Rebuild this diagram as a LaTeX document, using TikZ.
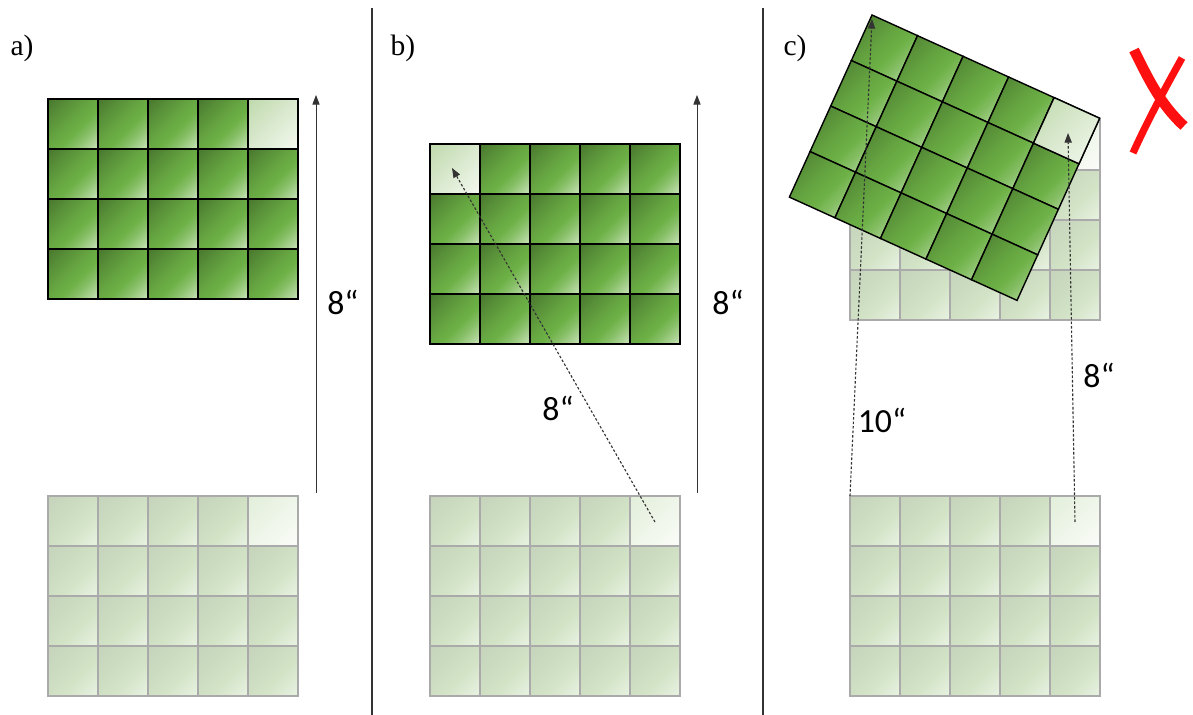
\documentclass[tikz,border=0pt]{standalone}
\usepackage{fontspec}
\setmainfont{Liberation Serif}
\newfontfamily\sizefont{Carlito}
\usetikzlibrary{arrows.meta}
\definecolor{tiledark}{HTML}{4A792F}
\definecolor{tilemid}{HTML}{6DB146}
\definecolor{tilepale}{HTML}{D4E9C8}
\colorlet{tilestepa}{tilemid!45!tiledark}
\colorlet{tilestepb}{tilemid!80!tiledark}
\colorlet{tilestepc}{tilemid!75!tilepale}
\colorlet{tilestepd}{tilemid!40!tilepale}
\definecolor{litdark}{HTML}{BFD9AD}
\definecolor{litpale}{HTML}{F6FAF2}
\definecolor{ghostdark}{HTML}{C5D4BB}
\definecolor{ghostmid}{HTML}{D2E3C6}
\definecolor{ghostpale}{HTML}{EAF3E4}
\colorlet{ghoststepa}{ghostmid!50!ghostdark}
\colorlet{ghoststepb}{ghostmid!50!ghostpale}
\definecolor{ghostlitdark}{HTML}{E2EEDA}
\definecolor{ghostlitpale}{HTML}{FBFDF9}
\definecolor{ghostline}{HTML}{AAAAAA}
\definecolor{arrowgray}{HTML}{333333}
\definecolor{wrong}{HTML}{FF1010}
\pgfdeclarehorizontalshading{tileshade}{100bp}{color(0bp)=(tiledark); color(16bp)=(tiledark); color(32bp)=(tilestepa); color(46bp)=(tilestepb); color(57bp)=(tilemid); color(67bp)=(tilestepc); color(77bp)=(tilestepd); color(87bp)=(tilepale); color(100bp)=(tilepale)}
\pgfdeclarehorizontalshading{litshade}{100bp}{color(0bp)=(litdark); color(15bp)=(litdark); color(87bp)=(litpale); color(100bp)=(litpale)}
\pgfdeclarehorizontalshading{ghostshade}{100bp}{color(0bp)=(ghostdark); color(16bp)=(ghostdark); color(38bp)=(ghoststepa); color(58bp)=(ghostmid); color(72bp)=(ghoststepb); color(87bp)=(ghostpale); color(100bp)=(ghostpale)}
\pgfdeclarehorizontalshading{ghostlitshade}{100bp}{color(0bp)=(ghostlitdark); color(15bp)=(ghostlitdark); color(87bp)=(ghostlitpale); color(100bp)=(ghostlitpale)}

\begin{document}
\begin{tikzpicture}[
  x=0.025cm, y=-0.025cm,
  tile/.style={shading=tileshade, shading angle=-45, draw=black, line width=1pt},
  tilelit/.style={shading=litshade, shading angle=-45, draw=black, line width=1pt},
  ghost/.style={shading=ghostshade, shading angle=-45, draw=ghostline, line width=1pt},
  ghostlit/.style={shading=ghostlitshade, shading angle=-45, draw=ghostline, line width=1pt},
  lift/.style={-{Triangle[length=2.4mm, width=1.8mm]}, draw=arrowgray, line width=0.6pt},
  drift/.style={lift, line width=0.8pt, dash pattern=on 1.8pt off 1.4pt},
  divider/.style={draw=arrowgray, line width=0.9pt},
  size/.style={font=\sizefont\fontsize{24}{28}\selectfont, inner sep=0pt},
  panel/.style={font=\fontsize{21}{25}\selectfont, inner sep=0pt},
  cross/.style={draw=wrong, line cap=butt}
]
\useasboundingbox (0,0) rectangle (1193,715);

% panel dividers
\draw[divider] (372,8) -- (372,715);
\draw[divider] (763,8) -- (763,715);

% a) straight lift
\node[panel] (alabel) at (22,48) {a)};
\begin{scope}[shift={(48,99)}]
  \foreach \i in {0,...,4} \foreach \j in {0,...,3}
    \shade[tile] (\i*50,\j*50) rectangle ++(50,50);
  \shade[tilelit] (200,0) rectangle ++(50,50);
\end{scope}
\begin{scope}[shift={(48,496)}]
  \foreach \i in {0,...,4} \foreach \j in {0,...,3}
    \shade[ghost] (\i*50,\j*50) rectangle ++(50,50);
  \shade[ghostlit] (200,0) rectangle ++(50,50);
\end{scope}
\coordinate (afoot) at (316,493);
\coordinate (ahead) at (316,95);
\draw[lift] (afoot) -- (ahead);
\node[size] (adist) at (343,302) {8“};

% b) lift with slide
\node[panel] (blabel) at (403,48) {b)};
\begin{scope}[shift={(430,144)}]
  \foreach \i in {0,...,4} \foreach \j in {0,...,3}
    \shade[tile] (\i*50,\j*50) rectangle ++(50,50);
  \shade[tilelit] (0,0) rectangle ++(50,50);
\end{scope}
\begin{scope}[shift={(430,496)}]
  \foreach \i in {0,...,4} \foreach \j in {0,...,3}
    \shade[ghost] (\i*50,\j*50) rectangle ++(50,50);
  \shade[ghostlit] (200,0) rectangle ++(50,50);
\end{scope}
\coordinate (bfoot) at (697,493);
\coordinate (bhead) at (697,95);
\draw[lift] (bfoot) -- (bhead);
\node[size] (bdist) at (728,302) {8“};
\coordinate (bstart) at (655,522);
\coordinate (bend) at (452,168);
\draw[drift] (bstart) -- (bend);
\node[size] (bslide) at (558,408) {8“};

% c) tilted lift
\node[panel] (clabel) at (795,48) {c)};
\begin{scope}[shift={(850,120)}]
  \foreach \i in {0,...,4} \foreach \j in {0,...,3}
    \shade[ghost] (\i*50,\j*50) rectangle ++(50,50);
  \shade[ghostlit] (200,0) rectangle ++(50,50);
\end{scope}
\begin{scope}[shift={(872,15)}, rotate=-24.4]
  \foreach \i in {0,...,4} \foreach \j in {0,...,3}
    \shade[tile] (\i*50,\j*50) rectangle ++(50,50);
  \shade[tilelit] (200,0) rectangle ++(50,50);
\end{scope}
\begin{scope}[shift={(850,496)}]
  \foreach \i in {0,...,4} \foreach \j in {0,...,3}
    \shade[ghost] (\i*50,\j*50) rectangle ++(50,50);
  \shade[ghostlit] (200,0) rectangle ++(50,50);
\end{scope}
\coordinate (cleftfoot) at (850,496);
\coordinate (cleftHead) at (872,19);
\draw[drift] (cleftfoot) -- (cleftHead);
\node[size] (cleft) at (882,420) {10“};
\coordinate (crightfoot) at (1075,522);
\coordinate (crightHead) at (1068,133);
\draw[drift] (crightfoot) -- (crightHead);
\node[size] (cright) at (1099,375) {8“};

% wrong mark
\draw[cross, line width=0.26cm] (1134,50) .. controls (1148,78) and (1160,104) .. (1184,126);
\draw[cross, line width=0.18cm] (1182,58) .. controls (1163,92) and (1147,122) .. (1133,153);
\end{tikzpicture}
\end{document}
